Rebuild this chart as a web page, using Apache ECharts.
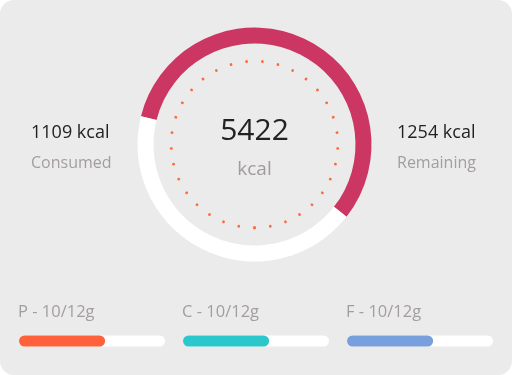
<!DOCTYPE html>
<html>
<head>
<meta charset="utf-8">
<script src="https://cdn.jsdelivr.net/npm/echarts@6/dist/echarts.min.js"></script>
<style>
html,body{margin:0;padding:0;background:#ffffff;}
#c{width:512px;height:375px;}
</style>
</head>
<body>
<div id="c"></div>
<script>
// ---- data ----
const totalKcal = '5422';
const totalUnit = 'kcal';
const consumedLabel = ['1109 kcal', 'Consumed'];
const remainingLabel = ['1254 kcal', 'Remaining'];
const ringNames = ['Consumed', 'Remaining'];
const ringShare = [56.7, 43.3];          // percent of the ring
const macroNames = ['P - 10/12g', 'C - 10/12g', 'F - 10/12g'];
const macroFill = [0.59, 0.59, 0.59];    // filled fraction of each bar
const dotCount = 33;

const macroColors = ['#ff613a', '#2bc7cb', '#77a0dc'];
const font = '"Open Sans", "Noto Sans", sans-serif';
const cx = 254.5, cy = 144.5;
const barLefts = [19, 183, 347];
const barW = 146;

const chart = echarts.init(document.getElementById('c'), null, {renderer: 'canvas'});

const grids = [], xAxes = [], yAxes = [], barSeries = [];
macroNames.forEach((n, i) => {
  grids.push({left: barLefts[i], top: 335.5, width: barW, height: 11});
  xAxes.push({type: 'value', gridIndex: i, min: 0, max: 1, show: false});
  yAxes.push({type: 'category', gridIndex: i, data: [n], show: false});
  barSeries.push({
    type: 'bar', xAxisIndex: i, yAxisIndex: i, barWidth: 11,
    data: [macroFill[i]], silent: true,
    itemStyle: {color: macroColors[i], borderRadius: 5.5},
    showBackground: true,
    backgroundStyle: {color: '#ffffff', borderRadius: 5.5}
  });
});

const textStyleBase = {fontFamily: font};
const graphics = [
  {type: 'rect', z: -10, shape: {x: 0, y: 0, width: 512, height: 375, r: 14}, style: {fill: '#ebebeb'}},
  {type: 'text', x: cx, y: 131, style: {text: totalKcal, fontSize: 30, fill: '#222222', textAlign: 'center', textVerticalAlign: 'middle', fontFamily: font}},
  {type: 'text', x: cx, y: 169.5, style: {text: totalUnit, fontSize: 19, fill: '#a19b9b', textAlign: 'center', textVerticalAlign: 'middle', fontFamily: font}},
  {type: 'text', x: 31, y: 133, style: {text: consumedLabel[0], fontSize: 18, fill: '#222222', textAlign: 'left', textVerticalAlign: 'middle', fontFamily: font}},
  {type: 'text', x: 31, y: 163, style: {text: consumedLabel[1], fontSize: 16, fill: '#a39e9e', textAlign: 'left', textVerticalAlign: 'middle', fontFamily: font}},
  {type: 'text', x: 397, y: 133, style: {text: remainingLabel[0], fontSize: 18, fill: '#222222', textAlign: 'left', textVerticalAlign: 'middle', fontFamily: font}},
  {type: 'text', x: 397, y: 163, style: {text: remainingLabel[1], fontSize: 16, fill: '#a39e9e', textAlign: 'left', textVerticalAlign: 'middle', fontFamily: font}}
];
macroNames.forEach((n, i) => {
  graphics.push({type: 'text', x: barLefts[i] - 1, y: 312, style: {text: n, fontSize: 16.5, fill: '#a39e9e', textAlign: 'left', textVerticalAlign: 'middle', fontFamily: font}});
});

chart.setOption({
  animation: false,
  backgroundColor: 'transparent',
  grid: grids,
  xAxis: xAxes,
  yAxis: yAxes,
  graphic: graphics,
  series: [
    {
      type: 'pie', center: [cx, cy], radius: [101, 117], startAngle: 166, clockwise: true,
      silent: true, label: {show: false}, labelLine: {show: false},
      data: ringNames.map((n, i) => ({name: n, value: ringShare[i], itemStyle: {color: i === 0 ? '#cc3663' : '#ffffff'}}))
    },
    {
      type: 'gauge', center: [cx, cy], radius: 83.5, startAngle: 270, endAngle: -90,
      min: 0, max: dotCount, splitNumber: dotCount, silent: true,
      axisLine: {show: false, lineStyle: {width: 0}},
      axisTick: {show: false},
      axisLabel: {show: false},
      pointer: {show: false},
      detail: {show: false},
      title: {show: false},
      splitLine: {show: true, distance: 0, length: 0.4, lineStyle: {color: '#ff6a3d', width: 2.6, cap: 'round'}},
      data: [{value: 0}]
    }
  ].concat(barSeries)
});
</script>
</body>
</html>
